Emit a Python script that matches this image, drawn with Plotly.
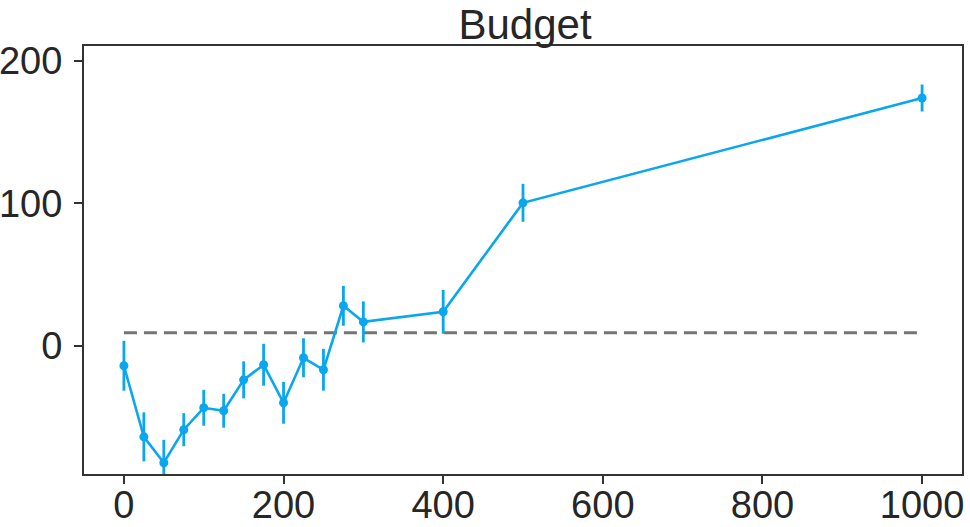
import plotly.graph_objects as go

budget = [0, 25, 50, 75, 100, 125, 150, 175, 200, 225, 250, 275, 300, 400, 500, 1000]
score = [-14.0, -63.9, -82.1, -58.9, -43.5, -45.6, -23.9, -13.3, -40.0, -8.4, -16.8, 28.1, 16.8, 23.9, 100.4, 174.0]
err = [17.5, 17.2, 16.1, 11.6, 12.6, 11.9, 13.0, 14.7, 14.7, 13.7, 14.7, 14.0, 14.4, 15.4, 13.3, 9.5]
baseline_x = [0, 1000]
baseline_y = [9.1, 9.1]

blue = "#0AA6EE"
font_family = "Liberation Sans, Arial, sans-serif"
fig = go.Figure()
fig.add_trace(go.Scatter(x=baseline_x, y=baseline_y, mode="lines",
                         line=dict(color="#747474", width=3, dash="13px,7px"), showlegend=False))
fig.add_trace(go.Scatter(x=budget, y=score, mode="lines+markers",
                         line=dict(color=blue, width=2.6),
                         marker=dict(color=blue, size=9),
                         error_y=dict(type="data", array=err, color=blue, thickness=2.8, width=0),
                         showlegend=False))

axis_common = dict(showline=True, linecolor="#333333", linewidth=2, mirror=True,
                   ticks="outside", ticklen=8, tickwidth=1.5, tickcolor="#333333",
                   showgrid=False, zeroline=False, automargin=False,
                   tickfont=dict(family=font_family, size=38, color="#262626"))
fig.update_xaxes(range=[-50, 1050], tickvals=[0, 200, 400, 600, 800, 1000], ticklabelstandoff=-12, **axis_common)
fig.update_yaxes(range=[-90, 210.5], tickvals=[0, 100, 200], ticklabelstandoff=4, **axis_common)

fig.update_layout(
    width=970, height=527,
    margin=dict(l=84, r=8, t=46, b=53),
    paper_bgcolor="white", plot_bgcolor="white",
    title=dict(text="Budget", x=525 / 970, xanchor="center", y=1 - 24 / 527, yanchor="middle",
               font=dict(family=font_family, size=42, color="#262626")),
)
fig.write_html("out.html", config={"displayModeBar": False},
               post_script="document.body.style.margin='0';")
